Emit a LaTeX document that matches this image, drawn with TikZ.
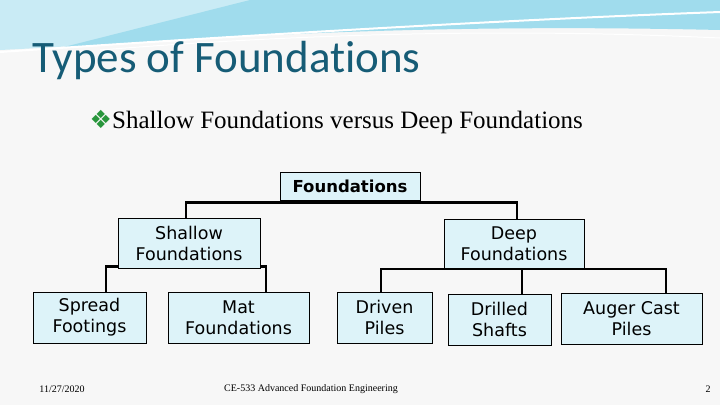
\documentclass[tikz,border=0pt]{standalone}
\usepackage{fontspec}
\setmainfont{Liberation Serif}
\newfontfamily\boxfont{DejaVu Sans}
\newfontfamily\titlefont[Ligatures=NoCommon]{Carlito}
\newfontfamily\symfont{DejaVu Sans}
\definecolor{boxfill}{RGB}{221,243,249}
\definecolor{slidebg}{RGB}{247,247,247}
\definecolor{titleteal}{RGB}{22,92,118}
\definecolor{wave}{RGB}{120,205,230}
\definecolor{bulletgreen}{RGB}{40,150,60}
\begin{document}
\begin{tikzpicture}[x=1pt,y=-1pt,thick,
  main node/.style={draw,fill=boxfill,align=center,inner sep=0pt,font=\boxfont\fontsize{17.5}{21}\selectfont},
  link/.style={line width=2.2pt}]
  \useasboundingbox (0,0) rectangle (720,405);
  \fill[slidebg] (0,0) rectangle (720,405);

  % top waves
  \fill[wave!40] (0,50) .. controls (200,40) and (450,20) .. (720,5) -- (720,0) -- (0,0) -- cycle;
  \fill[wave!70] (60,48) .. controls (300,30) and (500,25) .. (720,30) -- (720,0) -- (250,0) -- cycle;
  \draw[white,line width=2pt] (0,52) .. controls (250,35) and (500,20) .. (720,12);
  \draw[white,line width=1pt] (100,50) .. controls (350,30) and (550,30) .. (720,38);

  \node[anchor=west,text=titleteal,font=\titlefont\fontsize{45}{50}\selectfont] (title) at (29,60) {Types of Foundations};
  \node[anchor=west,font=\fontsize{25}{29}\selectfont] (sub) at (86,122) {{\symfont\color{bulletgreen}❖}Shallow Foundations versus Deep Foundations};

  \node[main node,minimum width=140pt,minimum height=28pt,font=\boxfont\bfseries\fontsize{16.5}{19}\selectfont] (root) at (350,186) {Foundations};
  \node[main node,minimum width=142pt,minimum height=50pt] (shallow) at (189,243) {Shallow\\Foundations};
  \node[main node,minimum width=140pt,minimum height=50pt] (deep) at (514,244) {Deep\\Foundations};
  \node[main node,minimum width=113pt,minimum height=51pt] (spread) at (89.5,317.5) {Spread\\Footings};
  \node[main node,minimum width=141pt,minimum height=51pt] (mat) at (238.5,317.5) {Mat\\Foundations};
  \node[main node,minimum width=95pt,minimum height=51pt] (driven) at (384.5,317.5) {Driven\\Piles};
  \node[main node,minimum width=103pt,minimum height=51pt] (drilled) at (499.5,319.5) {Drilled\\Shafts};
  \node[main node,minimum width=141pt,minimum height=51pt] (auger) at (631.5,318.5) {Auger Cast\\Piles};

  \draw[link] (root.south) -- ++(0,2) -| (shallow.north -| 186,0);
  \draw[link] (root.south) -- ++(0,2) -| (deep.north -| 517,0);
  \draw[link] (shallow.south west) ++(0,-2) -| (spread.north -| 106,0);
  \draw[link] (shallow.south east) ++(0,-2) -| (mat.north -| 266,0);
  \draw[link] (deep.south) ++(0,-0.5) -| (driven.north -| 381,0);
  \draw[link] (deep.south) ++(0,-0.5) -| (auger.north -| 666,0);
  \draw[link] (deep.south -| 522,0) -- (drilled.north -| 522,0);

  \node[font=\fontsize{10}{12}\selectfont] (date) at (62,389) {11/27/2020};
  \node[font=\fontsize{10}{12}\selectfont] (course) at (311,389) {CE-533 Advanced Foundation Engineering};
  \node[font=\fontsize{10}{12}\selectfont] (page) at (708,389) {2};
\end{tikzpicture}
\end{document}
